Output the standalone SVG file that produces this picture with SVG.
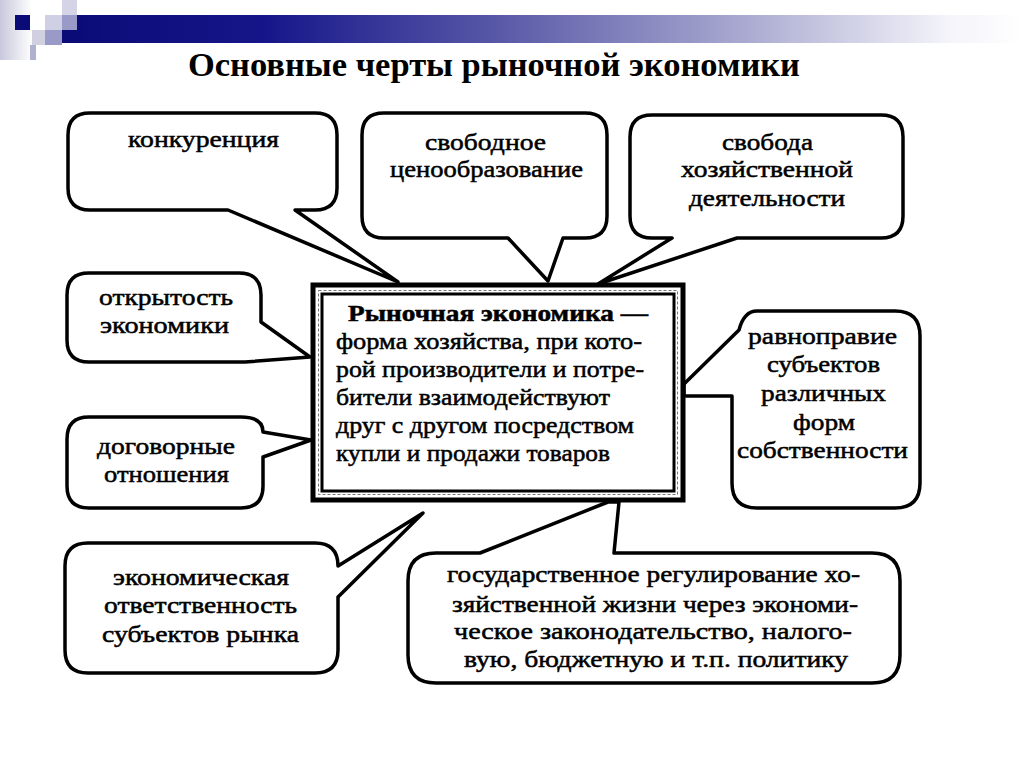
<svg xmlns="http://www.w3.org/2000/svg" width="1024" height="768" viewBox="0 0 1024 768">
<defs>
<linearGradient id="bar" x1="0" y1="0" x2="1" y2="0">
<stop offset="0" stop-color="#0b0b78"/>
<stop offset="0.2" stop-color="#16168a"/>
<stop offset="0.45" stop-color="#5a5aa8"/>
<stop offset="0.7" stop-color="#a8a8d0"/>
<stop offset="0.92" stop-color="#f4f4fa"/>
<stop offset="1" stop-color="#ffffff"/>
</linearGradient>
<linearGradient id="strip" x1="0" y1="0" x2="1" y2="0">
<stop offset="0" stop-color="#c8c8dc"/>
<stop offset="1" stop-color="#ffffff"/>
</linearGradient>
</defs>
<style>
.co{fill:#fff;stroke:#000;stroke-width:3.5;stroke-linejoin:round}
.t{font-family:"Liberation Serif","DejaVu Serif",serif;font-size:23px;fill:#000;stroke:#000;stroke-width:0.5;text-anchor:middle}
.c{font-family:"Liberation Serif","DejaVu Serif",serif;font-size:23px;fill:#000;stroke:#000;stroke-width:0.5}
</style>
<rect width="1024" height="768" fill="#fff"/>
<g id="decor">
<rect x="0" y="0" width="32" height="60" fill="url(#strip)"/>
<rect x="62" y="0" width="15" height="15" fill="#d4d4e6"/>
<rect x="15" y="15" width="15" height="15" fill="#0b0b78"/>
<rect x="30" y="15" width="15" height="15" fill="#ffffff"/>
<rect x="45" y="15" width="17" height="15" fill="#d0d0e4"/>
<rect x="62" y="15" width="15" height="15" fill="#9a9ac8"/>
<rect x="77" y="15" width="947" height="28" fill="url(#bar)"/>
<rect x="62" y="30" width="20" height="13" fill="#0b0b78"/>
<rect x="32" y="30" width="13" height="15" fill="#d0d0e0"/>
<rect x="45" y="30" width="17" height="15" fill="#9a9ac8"/>
<rect x="30" y="45" width="6" height="15" fill="#b0b0d0"/>
</g>
<text x="494" y="76" textLength="612" lengthAdjust="spacingAndGlyphs" style="font-family:'Liberation Serif','DejaVu Serif',serif;font-size:33px;font-weight:bold;text-anchor:middle">Основные черты рыночной экономики</text>
<g id="n1">
<path class="co" d="M90,113 H315 Q337,113 337,135 V188 Q337,210 315,210 H295 L398,282 L228,210 H90 Q68,210 68,188 V135 Q68,113 90,113 Z"/>
<text class="t" x="203.5" y="147" textLength="151" lengthAdjust="spacingAndGlyphs">конкуренция</text>
</g>
<g id="n2">
<path class="co" d="M384,113 H585 Q607,113 607,135 V216 Q607,238 585,238 H563 L548,281 L508,238 H384 Q362,238 362,216 V135 Q362,113 384,113 Z"/>
<text class="t" x="485.5" y="150" textLength="121" lengthAdjust="spacingAndGlyphs">свободное</text>
<text class="t" x="486.5" y="177" textLength="193" lengthAdjust="spacingAndGlyphs">ценообразование</text>
</g>
<g id="n3">
<path class="co" d="M652,115 H881 Q903,115 903,137 V216 Q903,238 881,238 H737 L598,284 L672,238 H652 Q630,238 630,216 V137 Q630,115 652,115 Z"/>
<text class="t" x="767.5" y="150" textLength="91" lengthAdjust="spacingAndGlyphs">свобода</text>
<text class="t" x="767" y="177" textLength="172" lengthAdjust="spacingAndGlyphs">хозяйственной</text>
<text class="t" x="767" y="206" textLength="156" lengthAdjust="spacingAndGlyphs">деятельности</text>
</g>
<g id="n4">
<path class="co" d="M89,273 H239 Q261,273 261,295 V322 L310,357 L245,362 H89 Q67,362 67,340 V295 Q67,273 89,273 Z"/>
<text class="t" x="166" y="305" textLength="134" lengthAdjust="spacingAndGlyphs">открытость</text>
<text class="t" x="164.5" y="333" textLength="129" lengthAdjust="spacingAndGlyphs">экономики</text>
</g>
<g id="n5">
<path class="co" d="M89,417 H241 Q263,417 263,432 L311,440 L263,457 V486 Q263,508 241,508 H89 Q67,508 67,486 V439 Q67,417 89,417 Z"/>
<text class="t" x="166" y="454" textLength="138" lengthAdjust="spacingAndGlyphs">договорные</text>
<text class="t" x="166.5" y="482" textLength="125" lengthAdjust="spacingAndGlyphs">отношения</text>
</g>
<g id="n6">
<path class="co" d="M757,311 H895 Q920,311 920,336 V483 Q920,508 895,508 H757 Q732,508 732,483 V396 H684 V384 L739,330 Q744,311 757,311 Z"/>
<text class="t" x="822.5" y="344" textLength="149" lengthAdjust="spacingAndGlyphs">равноправие</text>
<text class="t" x="823.5" y="372" textLength="113" lengthAdjust="spacingAndGlyphs">субъектов</text>
<text class="t" x="823.5" y="401" textLength="125" lengthAdjust="spacingAndGlyphs">различных</text>
<text class="t" x="824" y="430" textLength="62" lengthAdjust="spacingAndGlyphs">форм</text>
<text class="t" x="822.5" y="458" textLength="171" lengthAdjust="spacingAndGlyphs">собственности</text>
</g>
<g id="n7">
<path class="co" d="M88,543 H315 Q338,543 338,566 L423,513 L338,597 V650 Q338,673 315,673 H88 Q65,673 65,650 V566 Q65,543 88,543 Z"/>
<text class="t" x="201" y="585" textLength="176" lengthAdjust="spacingAndGlyphs">экономическая</text>
<text class="t" x="200.5" y="613" textLength="193" lengthAdjust="spacingAndGlyphs">ответственность</text>
<text class="t" x="200.5" y="642" textLength="197" lengthAdjust="spacingAndGlyphs">субъектов рынка</text>
</g>
<g id="n8">
<path class="co" d="M436,553 H480 L608,502 H619 L614,553 H872 Q900,553 900,581 V655 Q900,683 872,683 H436 Q408,683 408,655 V581 Q408,553 436,553 Z"/>
<text class="t" x="653.5" y="582" textLength="413" lengthAdjust="spacingAndGlyphs">государственное регулирование хо-</text>
<text class="t" x="655" y="612" textLength="406" lengthAdjust="spacingAndGlyphs">зяйственной жизни через экономи-</text>
<text class="t" x="653" y="639" textLength="398" lengthAdjust="spacingAndGlyphs">ческое законодательство, налого-</text>
<text class="t" x="656" y="667" textLength="384" lengthAdjust="spacingAndGlyphs">вую, бюджетную и т.п. политику</text>
</g>
<g id="center">
<rect x="313" y="285" width="370" height="215" fill="#fff" stroke="#000" stroke-width="5"/>
<rect x="318.5" y="290.5" width="359" height="204" fill="none" stroke="#777" stroke-width="1" stroke-dasharray="3 2"/>
<rect x="322" y="294" width="352" height="197" fill="#fff" stroke="#000" stroke-width="3"/>
<text class="c" x="348" y="321" textLength="300" lengthAdjust="spacingAndGlyphs" font-weight="bold">Рыночная экономика —</text>
<text class="c" x="336" y="349" textLength="306" lengthAdjust="spacingAndGlyphs">форма хозяйства, при кото-</text>
<text class="c" x="336" y="377" textLength="308" lengthAdjust="spacingAndGlyphs">рой производители и потре-</text>
<text class="c" x="336" y="405" textLength="274" lengthAdjust="spacingAndGlyphs">бители взаимодействуют</text>
<text class="c" x="336" y="433" textLength="298" lengthAdjust="spacingAndGlyphs">друг с другом посредством</text>
<text class="c" x="336" y="461" textLength="274" lengthAdjust="spacingAndGlyphs">купли и продажи товаров</text>
</g>
</svg>
